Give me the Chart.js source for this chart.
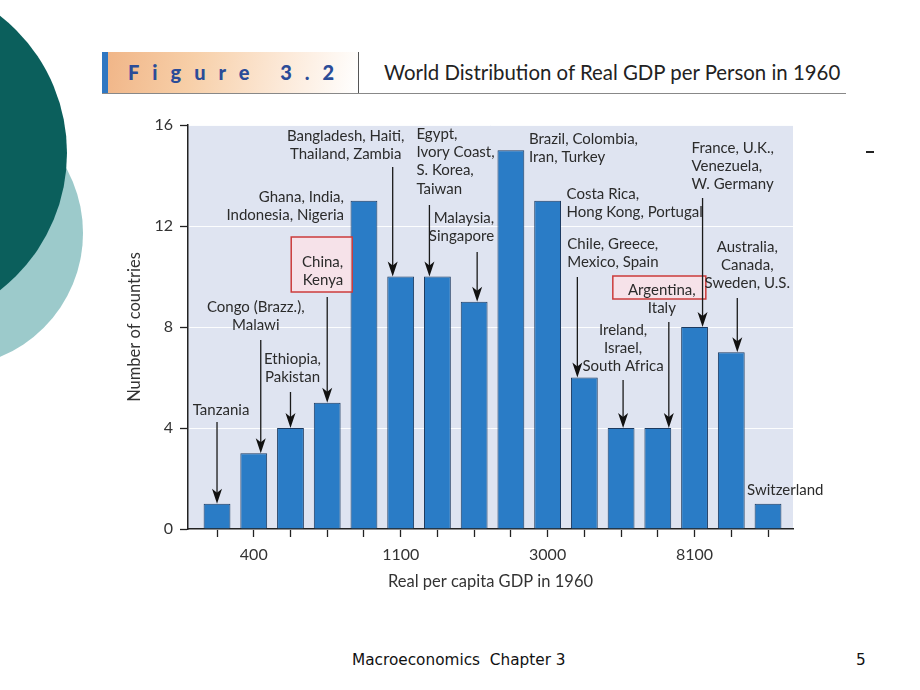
<!DOCTYPE html>
<html>
<head>
<meta charset="utf-8">
<script src="https://cdn.jsdelivr.net/npm/chart.js@4.4.1/dist/chart.umd.min.js"></script>
<style>
  html, body { margin: 0; padding: 0; background: #fff; }
  body { width: 920px; height: 690px; position: relative; overflow: hidden; font-family: Lato, sans-serif; }
  .circle { position: absolute; border-radius: 50%; }
  #lightCircle { left: -185px; top: 99px; width: 268px; height: 268px; background: #9ccacb; }
  #darkCircle { left: -281px; top: -21px; width: 348px; height: 348px; background: #0b5f5c; }
  #banner { position: absolute; left: 102px; top: 52px; width: 256px; height: 41px;
    background: linear-gradient(100deg, #f0b486 0%, #f7cfa8 35%, #fce9d8 70%, #fff 100%); }
  #banner::before { content: ''; position: absolute; left: 0; top: 0; width: 6px; height: 41px; background: #2f77c2; }
  #figLabel { position: absolute; left: 128px; top: 60px; font: 900 20px Lato, sans-serif; color: #2a4c98; letter-spacing: 13px; white-space: pre; }
  #vrule { position: absolute; left: 358px; top: 52px; width: 1px; height: 41px; background: #555; }
  #hrule { position: absolute; left: 102px; top: 93px; width: 744px; height: 1px; background: #888; }
  #title { position: absolute; left: 384px; top: 60px; font: 20.4px Lato, sans-serif; color: #222; white-space: nowrap; }
  #dash { position: absolute; left: 866px; top: 151px; width: 8px; height: 2px; background: #222; }
  .foot { position: absolute; top: 651px; font: 15.3px "DejaVu Sans", sans-serif; color: #111; white-space: pre; }
  #chartBox { position: absolute; left: 0; top: 0; width: 920px; height: 690px; }
</style>
</head>
<body>
<div class="circle" id="lightCircle"></div>
<div class="circle" id="darkCircle"></div>
<div id="banner"></div>
<div id="figLabel">Figure 3.2</div>
<div id="vrule"></div>
<div id="hrule"></div>
<div id="title">World Distribution of Real GDP per Person in 1960</div>
<div id="dash"></div>
<div class="foot" style="left:352px">Macroeconomics  Chapter 3</div>
<div class="foot" style="left:856px">5</div>
<div id="chartBox"><canvas id="gdpChart" width="920" height="690"></canvas></div>
<script>
// one bin per bar, left to right
const tickLabels = ['', '400', '', '', '', '1100', '', '', '', '3000', '', '', '', '8100', '', ''];
const countryCounts = [1, 3, 4, 5, 13, 10, 10, 9, 15, 13, 6, 4, 4, 8, 7, 1];
const countryGroups = [
    ['Tanzania'],
    ['Congo (Brazz.),', 'Malawi'],
    ['Ethiopia,', 'Pakistan'],
    ['China,', 'Kenya'],
    ['Ghana, India,', 'Indonesia, Nigeria'],
    ['Bangladesh, Haiti,', 'Thailand, Zambia'],
    ['Egypt,', 'Ivory Coast,', 'S. Korea,', 'Taiwan'],
    ['Malaysia,', 'Singapore'],
    ['Brazil, Colombia,', 'Iran, Turkey'],
    ['Costa Rica,', 'Hong Kong, Portugal'],
    ['Chile, Greece,', 'Mexico, Spain'],
    ['Ireland,', 'Israel,', 'South Africa'],
    ['Argentina,', 'Italy'],
    ['France, U.K.,', 'Venezuela,', 'W. Germany'],
    ['Australia,', 'Canada,', 'Sweden, U.S.'],
    ['Switzerland']
];

// label placement: text offset from bar centre, first line y, arrow offset / start y, highlight box
const labelLayout = [
    { align: 'center', dx: 4, y: 410, arrow: [0, 422] },
    { align: 'center', dx: 2, y: 307, arrow: [7, 340] },
    { align: 'center', dx: 2, y: 359, arrow: [0, 392] },
    { align: 'right', dx: 16, y: 262, arrow: [0, 297], box: [-36, 237, 61, 55] },
    { align: 'right', dx: -20, y: 197 },
    { align: 'center', dx: -55, y: 136, arrow: [-8, 167] },
    { align: 'left', dx: -21, y: 134, arrow: [-8, 205] },
    { align: 'right', dx: 20, y: 218, arrow: [3, 252] },
    { align: 'left', dx: 18, y: 139 },
    { align: 'left', dx: 19, y: 194 },
    { align: 'left', dx: -17, y: 244, arrow: [-7, 277] },
    { align: 'center', dx: 2, y: 330, arrow: [2, 380] },
    { align: 'center', dx: 4, y: 290, arrow: [11, 322], box: [-45, 276, 93, 23] },
    { align: 'left', dx: -3, y: 148, arrow: [8, 198] },
    { align: 'center', dx: 16, y: 247, arrow: [6, 298] },
    { align: 'left', dx: -21, y: 490 }
];

const plotBackground = {
    id: 'plotBackground',
    beforeDraw(chart) {
        const { ctx, chartArea: a } = chart;
        ctx.save();
        ctx.fillStyle = '#dfe4f1';
        ctx.fillRect(a.left, a.top, a.right - a.left, a.bottom - a.top);
        ctx.restore();
    }
};

const countryLabels = {
    id: 'countryLabels',
    afterDatasetsDraw(chart) {
        const { ctx, scales: { x, y } } = chart;
        ctx.save();
        ctx.font = '15px Lato, sans-serif';
        ctx.textBaseline = 'middle';
        labelLayout.forEach((l, i) => {
            const cx = x.getPixelForValue(i + 1);
            if (l.box) {
                ctx.fillStyle = 'rgba(255, 225, 230, 0.7)';
                ctx.fillRect(cx + l.box[0], l.box[1], l.box[2], l.box[3]);
                ctx.strokeStyle = '#cc3b3b';
                ctx.lineWidth = 1.5;
                ctx.strokeRect(cx + l.box[0], l.box[1], l.box[2], l.box[3]);
            }
            ctx.fillStyle = '#2b2b2b';
            ctx.textAlign = l.align;
            countryGroups[i].forEach((line, k) => {
                ctx.fillText(line, cx + l.dx, l.y + k * 18.3);
            });
            if (l.arrow) {
                const ax = cx + l.arrow[0];
                const top = y.getPixelForValue(countryCounts[i]);
                ctx.strokeStyle = '#1a1a1a';
                ctx.lineWidth = 1.3;
                ctx.beginPath();
                ctx.moveTo(ax, l.arrow[1]);
                ctx.lineTo(ax, top - 10);
                ctx.stroke();
                ctx.fillStyle = '#111';
                ctx.beginPath();
                ctx.moveTo(ax, top);
                ctx.lineTo(ax - 5, top - 15);
                ctx.lineTo(ax, top - 11);
                ctx.lineTo(ax + 5, top - 15);
                ctx.closePath();
                ctx.fill();
            }
        });
        ctx.restore();
    }
};

new Chart(document.getElementById('gdpChart').getContext('2d'), {
    type: 'bar',
    data: {
        datasets: [{
            data: countryCounts.map((c, i) => ({ x: i + 1, y: c })),
            backgroundColor: '#2a7cc6',
            borderColor: '#1c3a60',
            borderWidth: 1,
            barPercentage: 0.73,
            categoryPercentage: 1
        }]
    },
    options: {
        responsive: false,
        animation: false,
        layout: { padding: { left: 120, top: 125, right: 127, bottom: 91 } },
        plugins: { legend: { display: false }, tooltip: { enabled: false } },
        scales: {
            x: {
                type: 'linear',
                offset: false,
                min: 0.21,
                max: 16.68,
                afterBuildTicks: axis => { axis.ticks = countryCounts.map((c, i) => ({ value: i + 1 })); },
                afterFit: axis => { axis.height = 70; },
                ticks: {
                    autoSkip: false,
                    maxRotation: 0,
                    padding: 8,
                    color: '#333',
                    font: { family: 'Lato', size: 16 },
                    callback: (value) => tickLabels[Math.round(value) - 1] || ''
                },
                grid: { offset: false, drawOnChartArea: false, drawTicks: true, tickLength: 8, tickColor: '#222', tickWidth: 1.3 },
                border: { color: '#222', width: 1.5 },
                title: {
                    display: true,
                    text: 'Real per capita GDP in 1960',
                    color: '#333',
                    font: { family: 'Lato', size: 16.5 },
                    padding: { top: 0, bottom: 7 }
                }
            },
            y: {
                min: 0,
                max: 16,
                afterFit: axis => { axis.width = 68; },
                ticks: { stepSize: 4, padding: 7, color: '#333', font: { family: 'Lato', size: 16 } },
                grid: { color: 'rgba(255,255,255,0.9)', lineWidth: 1, tickLength: 8, tickColor: '#222', tickWidth: 1.3 },
                border: { color: '#222', width: 1.5 },
                title: {
                    display: true,
                    text: 'Number of countries',
                    color: '#333',
                    font: { family: 'Lato', size: 16.5 },
                    padding: { top: 5, bottom: 0 }
                }
            }
        }
    },
    plugins: [plotBackground, countryLabels]
});
</script>
</body>
</html>
